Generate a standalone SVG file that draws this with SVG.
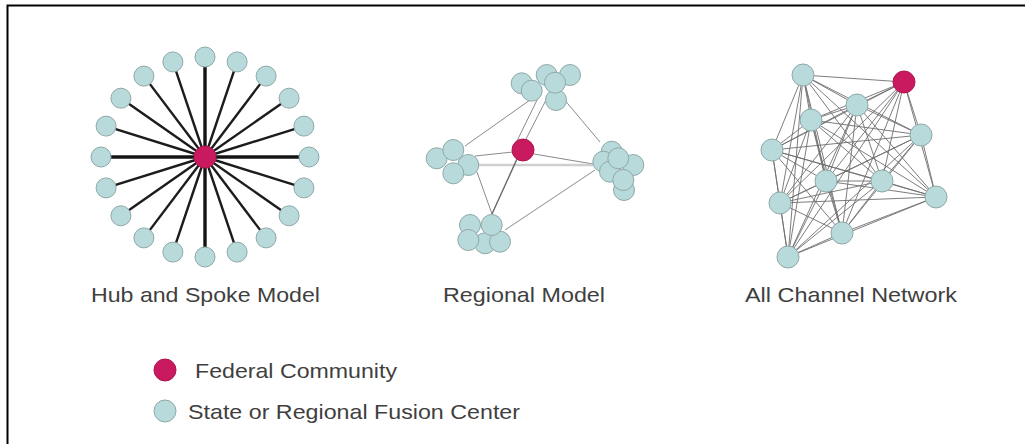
<svg xmlns="http://www.w3.org/2000/svg" width="1025" height="444" viewBox="0 0 1025 444">
<style>
.st{fill:#b9dadb;stroke:#8fa8a9;stroke-width:1}
.fed{fill:#c9195f;stroke:#b0164f;stroke-width:1}
.spoke{stroke:#1c1c1c;stroke-width:2.4}
.spk{stroke:#141414;stroke-width:3.4}
.reg{stroke:#8a8a8a;stroke-width:1}
.ac{stroke:#6e6e6e;stroke-width:0.9}
.lbl{font-family:"Liberation Sans",Arial,sans-serif;font-size:21px;fill:#3f3f3f}
</style>
<rect x="7.5" y="5.5" width="1040" height="460" fill="#ffffff" stroke="#000000" stroke-width="2"/>
<g id="connectors">
<g id="hub-spokes">
<line class="spk" x1="205" y1="157" x2="205" y2="57"/>
<line class="spoke" x1="205" y1="157" x2="237.1" y2="61.9"/>
<line class="spoke" x1="205" y1="157" x2="266.1" y2="76.1"/>
<line class="spoke" x1="205" y1="157" x2="289.1" y2="98.2"/>
<line class="spoke" x1="205" y1="157" x2="303.9" y2="126.1"/>
<line class="spk" x1="205" y1="157" x2="309" y2="157"/>
<line class="spoke" x1="205" y1="157" x2="303.9" y2="187.9"/>
<line class="spoke" x1="205" y1="157" x2="289.1" y2="215.8"/>
<line class="spoke" x1="205" y1="157" x2="266.1" y2="237.9"/>
<line class="spoke" x1="205" y1="157" x2="237.1" y2="252.1"/>
<line class="spk" x1="205" y1="157" x2="205" y2="257"/>
<line class="spoke" x1="205" y1="157" x2="172.9" y2="252.1"/>
<line class="spoke" x1="205" y1="157" x2="143.9" y2="237.9"/>
<line class="spoke" x1="205" y1="157" x2="120.9" y2="215.8"/>
<line class="spoke" x1="205" y1="157" x2="106.1" y2="187.9"/>
<line class="spk" x1="205" y1="157" x2="101" y2="157"/>
<line class="spoke" x1="205" y1="157" x2="106.1" y2="126.1"/>
<line class="spoke" x1="205" y1="157" x2="120.9" y2="98.2"/>
<line class="spoke" x1="205" y1="157" x2="143.9" y2="76.1"/>
<line class="spoke" x1="205" y1="157" x2="172.9" y2="61.9"/>
</g>
<g id="regional-links">
<line class="reg" x1="465" y1="146" x2="530" y2="100"/>
<line class="reg" x1="563" y1="98" x2="600" y2="142"/>
<line class="reg" x1="538" y1="98" x2="517" y2="141"/>
<line class="reg" x1="547" y1="98" x2="525" y2="141"/>
<line class="reg" x1="513" y1="152" x2="475" y2="156"/>
<line class="reg" x1="534" y1="154" x2="593" y2="164"/>
<line x1="478" y1="165" x2="593" y2="165" stroke="#cfcfcf" stroke-width="2.5"/>
<line class="reg" x1="477" y1="172" x2="492" y2="214"/>
<line x1="517" y1="159" x2="492" y2="214" stroke="#666666" stroke-width="1.4"/>
<line class="reg" x1="595" y1="170" x2="505" y2="230"/>
</g>
<g id="allchannel-links">
<line class="ac" x1="803" y1="75" x2="904" y2="82"/>
<line class="ac" x1="803" y1="75" x2="857" y2="105"/>
<line class="ac" x1="803" y1="75" x2="811" y2="120"/>
<line class="ac" x1="803" y1="75" x2="921" y2="135"/>
<line class="ac" x1="803" y1="75" x2="772" y2="150"/>
<line class="ac" x1="803" y1="75" x2="826" y2="181"/>
<line class="ac" x1="803" y1="75" x2="882" y2="181"/>
<line class="ac" x1="803" y1="75" x2="936" y2="197"/>
<line class="ac" x1="803" y1="75" x2="780" y2="203"/>
<line class="ac" x1="803" y1="75" x2="842" y2="233"/>
<line class="ac" x1="803" y1="75" x2="788" y2="257"/>
<line class="ac" x1="904" y1="82" x2="857" y2="105"/>
<line class="ac" x1="904" y1="82" x2="811" y2="120"/>
<line class="ac" x1="904" y1="82" x2="921" y2="135"/>
<line class="ac" x1="904" y1="82" x2="772" y2="150"/>
<line class="ac" x1="904" y1="82" x2="826" y2="181"/>
<line class="ac" x1="904" y1="82" x2="882" y2="181"/>
<line class="ac" x1="904" y1="82" x2="936" y2="197"/>
<line class="ac" x1="904" y1="82" x2="780" y2="203"/>
<line class="ac" x1="904" y1="82" x2="842" y2="233"/>
<line class="ac" x1="904" y1="82" x2="788" y2="257"/>
<line class="ac" x1="857" y1="105" x2="811" y2="120"/>
<line class="ac" x1="857" y1="105" x2="921" y2="135"/>
<line class="ac" x1="857" y1="105" x2="772" y2="150"/>
<line class="ac" x1="857" y1="105" x2="826" y2="181"/>
<line class="ac" x1="857" y1="105" x2="882" y2="181"/>
<line class="ac" x1="857" y1="105" x2="936" y2="197"/>
<line class="ac" x1="857" y1="105" x2="780" y2="203"/>
<line class="ac" x1="857" y1="105" x2="842" y2="233"/>
<line class="ac" x1="857" y1="105" x2="788" y2="257"/>
<line class="ac" x1="811" y1="120" x2="921" y2="135"/>
<line class="ac" x1="811" y1="120" x2="772" y2="150"/>
<line class="ac" x1="811" y1="120" x2="826" y2="181"/>
<line class="ac" x1="811" y1="120" x2="882" y2="181"/>
<line class="ac" x1="811" y1="120" x2="936" y2="197"/>
<line class="ac" x1="811" y1="120" x2="780" y2="203"/>
<line class="ac" x1="811" y1="120" x2="842" y2="233"/>
<line class="ac" x1="811" y1="120" x2="788" y2="257"/>
<line class="ac" x1="921" y1="135" x2="772" y2="150"/>
<line class="ac" x1="921" y1="135" x2="826" y2="181"/>
<line class="ac" x1="921" y1="135" x2="882" y2="181"/>
<line class="ac" x1="921" y1="135" x2="936" y2="197"/>
<line class="ac" x1="921" y1="135" x2="780" y2="203"/>
<line class="ac" x1="921" y1="135" x2="842" y2="233"/>
<line class="ac" x1="921" y1="135" x2="788" y2="257"/>
<line class="ac" x1="772" y1="150" x2="826" y2="181"/>
<line class="ac" x1="772" y1="150" x2="882" y2="181"/>
<line class="ac" x1="772" y1="150" x2="936" y2="197"/>
<line class="ac" x1="772" y1="150" x2="780" y2="203"/>
<line class="ac" x1="772" y1="150" x2="842" y2="233"/>
<line class="ac" x1="772" y1="150" x2="788" y2="257"/>
<line class="ac" x1="826" y1="181" x2="882" y2="181"/>
<line class="ac" x1="826" y1="181" x2="936" y2="197"/>
<line class="ac" x1="826" y1="181" x2="780" y2="203"/>
<line class="ac" x1="826" y1="181" x2="842" y2="233"/>
<line class="ac" x1="826" y1="181" x2="788" y2="257"/>
<line class="ac" x1="882" y1="181" x2="936" y2="197"/>
<line class="ac" x1="882" y1="181" x2="780" y2="203"/>
<line class="ac" x1="882" y1="181" x2="842" y2="233"/>
<line class="ac" x1="882" y1="181" x2="788" y2="257"/>
<line class="ac" x1="936" y1="197" x2="780" y2="203"/>
<line class="ac" x1="936" y1="197" x2="842" y2="233"/>
<line class="ac" x1="936" y1="197" x2="788" y2="257"/>
<line class="ac" x1="780" y1="203" x2="842" y2="233"/>
<line class="ac" x1="780" y1="203" x2="788" y2="257"/>
<line class="ac" x1="842" y1="233" x2="788" y2="257"/>
</g>
</g>
<g id="hub-nodes">
<g id="hub-s0"><circle class="st" cx="205" cy="57" r="10"/></g>
<g id="hub-s1"><circle class="st" cx="237.1" cy="61.9" r="10"/></g>
<g id="hub-s2"><circle class="st" cx="266.1" cy="76.1" r="10"/></g>
<g id="hub-s3"><circle class="st" cx="289.1" cy="98.2" r="10"/></g>
<g id="hub-s4"><circle class="st" cx="303.9" cy="126.1" r="10"/></g>
<g id="hub-s5"><circle class="st" cx="309" cy="157" r="10"/></g>
<g id="hub-s6"><circle class="st" cx="303.9" cy="187.9" r="10"/></g>
<g id="hub-s7"><circle class="st" cx="289.1" cy="215.8" r="10"/></g>
<g id="hub-s8"><circle class="st" cx="266.1" cy="237.9" r="10"/></g>
<g id="hub-s9"><circle class="st" cx="237.1" cy="252.1" r="10"/></g>
<g id="hub-s10"><circle class="st" cx="205" cy="257" r="10"/></g>
<g id="hub-s11"><circle class="st" cx="172.9" cy="252.1" r="10"/></g>
<g id="hub-s12"><circle class="st" cx="143.9" cy="237.9" r="10"/></g>
<g id="hub-s13"><circle class="st" cx="120.9" cy="215.8" r="10"/></g>
<g id="hub-s14"><circle class="st" cx="106.1" cy="187.9" r="10"/></g>
<g id="hub-s15"><circle class="st" cx="101" cy="157" r="10"/></g>
<g id="hub-s16"><circle class="st" cx="106.1" cy="126.1" r="10"/></g>
<g id="hub-s17"><circle class="st" cx="120.9" cy="98.2" r="10"/></g>
<g id="hub-s18"><circle class="st" cx="143.9" cy="76.1" r="10"/></g>
<g id="hub-s19"><circle class="st" cx="172.9" cy="61.9" r="10"/></g>
<g id="hub-center"><circle class="fed" cx="205" cy="157" r="11"/></g>
</g>
<g id="regional-nodes">
<g id="reg-top">
<circle class="st" cx="521.7" cy="83.3" r="10.5"/>
<circle class="st" cx="546.7" cy="75" r="10.5"/>
<circle class="st" cx="570" cy="75" r="10.5"/>
<circle class="st" cx="556" cy="100" r="10.5"/>
<circle class="st" cx="531.7" cy="90.7" r="10.5"/>
<circle class="st" cx="555" cy="82.7" r="10.5"/>
</g>
<g id="reg-left">
<circle class="st" cx="436.7" cy="158.3" r="10.5"/>
<circle class="st" cx="453.3" cy="150" r="10.5"/>
<circle class="st" cx="468.3" cy="165" r="10.5"/>
<circle class="st" cx="453.3" cy="173.3" r="10.5"/>
</g>
<g id="reg-right">
<circle class="st" cx="624" cy="190" r="10.5"/>
<circle class="st" cx="611.7" cy="151.7" r="10.5"/>
<circle class="st" cx="603.3" cy="161.7" r="10.5"/>
<circle class="st" cx="633.3" cy="165" r="10.5"/>
<circle class="st" cx="610" cy="171.7" r="10.5"/>
<circle class="st" cx="623.3" cy="180" r="10.5"/>
<circle class="st" cx="618.3" cy="158.3" r="10.5"/>
</g>
<g id="reg-bottom">
<circle class="st" cx="485" cy="243.3" r="10.5"/>
<circle class="st" cx="470" cy="225" r="10.5"/>
<circle class="st" cx="468.3" cy="240" r="10.5"/>
<circle class="st" cx="500" cy="241.7" r="10.5"/>
<circle class="st" cx="491.7" cy="225" r="10.5"/>
</g>
<g id="reg-center"><circle class="fed" cx="523" cy="150" r="11"/></g>
</g>
<g id="allchannel-nodes">
<g id="ac-a"><circle class="st" cx="803" cy="75" r="11"/></g>
<g id="ac-fed"><circle class="fed" cx="904" cy="82" r="11"/></g>
<g id="ac-b"><circle class="st" cx="857" cy="105" r="11"/></g>
<g id="ac-c"><circle class="st" cx="811" cy="120" r="11"/></g>
<g id="ac-d"><circle class="st" cx="921" cy="135" r="11"/></g>
<g id="ac-e"><circle class="st" cx="772" cy="150" r="11"/></g>
<g id="ac-f"><circle class="st" cx="826" cy="181" r="11"/></g>
<g id="ac-g"><circle class="st" cx="882" cy="181" r="11"/></g>
<g id="ac-h"><circle class="st" cx="936" cy="197" r="11"/></g>
<g id="ac-i"><circle class="st" cx="780" cy="203" r="11"/></g>
<g id="ac-j"><circle class="st" cx="842" cy="233" r="11"/></g>
<g id="ac-k"><circle class="st" cx="788" cy="257" r="11"/></g>
</g>
<g id="titles">
<text class="lbl" x="91" y="302" textLength="229" lengthAdjust="spacingAndGlyphs">Hub and Spoke Model</text>
<text class="lbl" x="443" y="302" textLength="162" lengthAdjust="spacingAndGlyphs">Regional Model</text>
<text class="lbl" x="745" y="302" textLength="212" lengthAdjust="spacingAndGlyphs">All Channel Network</text>
</g>
<g id="legend">
<g id="legend-federal"><circle class="fed" cx="165" cy="370" r="11"/>
<text class="lbl" x="195" y="378" textLength="202" lengthAdjust="spacingAndGlyphs">Federal Community</text></g>
<g id="legend-state"><circle class="st" cx="165" cy="411" r="11"/>
<text class="lbl" x="188" y="419" textLength="332" lengthAdjust="spacingAndGlyphs">State or Regional Fusion Center</text></g>
</g>
</svg>
